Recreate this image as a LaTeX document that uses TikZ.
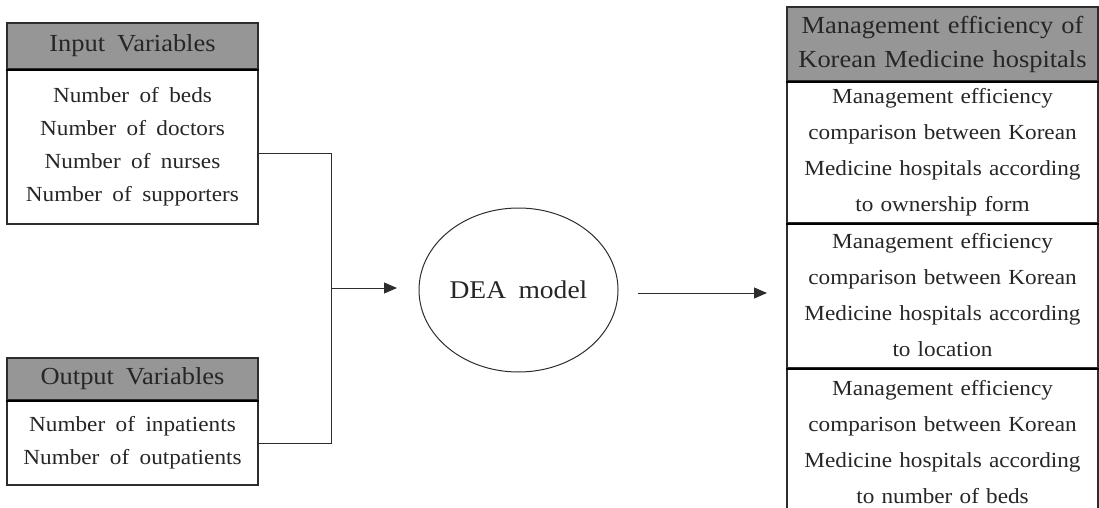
\documentclass[tikz,border=0pt]{standalone}
\usepackage{fontspec}
\setmainfont{Liberation Serif}[FakeStretch=1.08,WordSpace=1.8]
\usetikzlibrary{arrows.meta,shapes.geometric}
\definecolor{hdr}{RGB}{150,150,150}
\definecolor{brd}{RGB}{45,45,45}
\tikzset{
  box/.style={draw=brd,line width=1.1pt,rectangle,inner sep=0pt,align=center,
    font=\fontsize{21.5}{33}\selectfont,text=black!85},
  hbox/.style={box,fill=hdr,font=\fontsize{24.5}{30}\selectfont},
  rbox/.style={draw=brd,line width=1.1pt,rectangle,inner sep=0pt,align=center,
    minimum width=311pt,text width=305pt,font=\fontsize{21.5}{36}\selectfont,text=black!85},
  rhbox/.style={rbox,fill=hdr,font=\fontsize{24.5}{34}\selectfont},
  divider/.style={line width=2pt,black},
  conn/.style={line width=1pt,brd},
  arr/.style={conn,-{Triangle[length=13pt,width=11pt]}}
}
\begin{document}
\begin{tikzpicture}[x=1pt,y=-1pt]
\useasboundingbox (0,0) rectangle (1099,508);
\clip (0,0) rectangle (1099,508);
% left boxes
\node[hbox,minimum width=251pt,minimum height=46pt] (inhead) at (132.5,46) {Input Variables};
\node[box,minimum width=251pt,minimum height=155pt] (inbody) at (132.5,146.5)
  {Number of beds\\Number of doctors\\Number of nurses\\Number of supporters};
\draw[divider] (inhead.south west) -- (inhead.south east);
\node[hbox,minimum width=251pt,minimum height=42pt] (outhead) at (132.5,379) {Output Variables};
\node[box,minimum width=251pt,minimum height=85pt] (outbody) at (132.5,442.5)
  {Number of inpatients\\Number of outpatients};
\draw[divider] (outhead.south west) -- (outhead.south east);
% DEA
\node[draw=brd,line width=1pt,ellipse,minimum width=199pt,minimum height=164pt,
  inner sep=0pt,font=\fontsize{25.5}{30}\selectfont,text=black!85] (dea) at (518.5,290) {DEA model};
% right column
\node[rhbox,minimum height=74pt] (rhead) at (942.5,44)
  {Management efficiency of\\Korean Medicine hospitals};
\node[rbox,minimum height=142pt] (r1) at (942.5,152)
  {Management efficiency\\comparison between Korean\\Medicine hospitals according\\to ownership form};
\node[rbox,minimum height=145pt] (r2) at (942.5,295.5)
  {Management efficiency\\comparison between Korean\\Medicine hospitals according\\to location};
\node[rbox,minimum height=148pt] (r3) at (942.5,442)
  {Management efficiency\\comparison between Korean\\Medicine hospitals according\\to number of beds};
\draw[divider] (rhead.south west) -- (rhead.south east);
\draw[divider] (r1.south west) -- (r1.south east);
\draw[divider] (r2.south west) -- (r2.south east);
% connectors
\coordinate (j1) at (331,153);
\coordinate (j2) at (331,443);
\coordinate (jm) at (331,288);
\coordinate (a1) at (397,288);
\coordinate (b0) at (638,293);
\coordinate (b1) at (767,293);
\draw[conn] (inbody.east |- j1) -- (j1) -- (j2) -- (outbody.east |- j2);
\draw[arr] (jm) -- (a1);
\draw[arr] (b0) -- (b1);
\end{tikzpicture}
\end{document}
